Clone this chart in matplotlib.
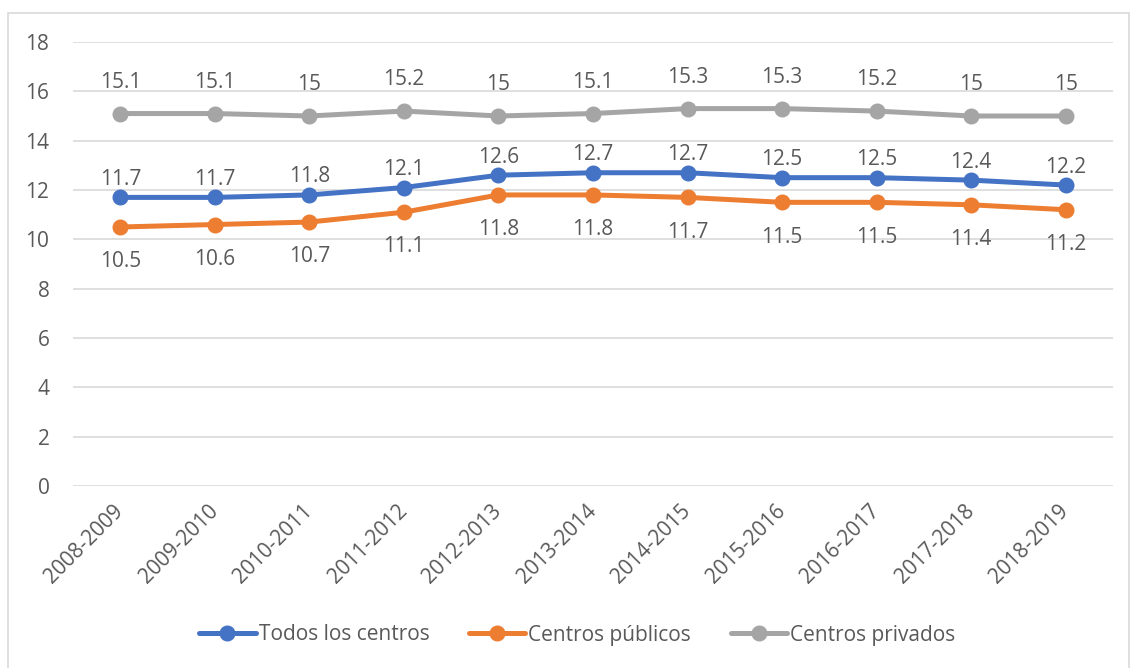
import matplotlib.pyplot as plt
from matplotlib.patches import Rectangle

# datos
cursos = ['2008-2009', '2009-2010', '2010-2011', '2011-2012', '2012-2013',
          '2013-2014', '2014-2015', '2015-2016', '2016-2017', '2017-2018',
          '2018-2019']
todos = [11.7, 11.7, 11.8, 12.1, 12.6, 12.7, 12.7, 12.5, 12.5, 12.4, 12.2]
publicos = [10.5, 10.6, 10.7, 11.1, 11.8, 11.8, 11.7, 11.5, 11.5, 11.4, 11.2]
privados = [15.1, 15.1, 15.0, 15.2, 15.0, 15.1, 15.3, 15.3, 15.2, 15.0, 15.0]

plt.rcParams['font.family'] = ['Open Sans', 'DejaVu Sans']
texto = '#595959'
tam = 15

fig = plt.figure(figsize=(11.32, 6.68), dpi=100)
ax = fig.add_axes([73 / 1132, 1 - 486 / 668, 1040 / 1132, 444 / 668])

# borde del gráfico
fig.patches.append(Rectangle((8 / 1132, -0.01), 1121 / 1132, 1 - 13 / 668 + 0.01,
                             transform=fig.transFigure, fill=False,
                             edgecolor='#d9d9d9', linewidth=1.2))

x = range(len(cursos))
# (valores, color, nombre, desplazamiento de la etiqueta en puntos)
series = [
    (todos, '#4472C4', 'Todos los centros', 13),
    (publicos, '#ED7D31', 'Centros públicos', -25),
    (privados, '#A5A5A5', 'Centros privados', 22.5),
]
for valores, color, nombre, dy in series:
    ax.plot(x, valores, color=color, linewidth=3.6, marker='o',
            markersize=10.5, label=nombre, solid_capstyle='round')
    for xi, v in zip(x, valores):
        ax.annotate(f'{v:g}', (xi, v), xytext=(0, dy),
                    textcoords='offset points', ha='center', va='center',
                    fontsize=tam, color=texto)

ax.set_xlim(-0.5, len(cursos) - 0.5)
ax.set_ylim(0, 18)
ax.set_yticks(range(0, 19, 2))
ax.set_xticks(list(x))
ax.set_xticklabels(cursos, rotation=45, ha='right', va='center',
                   rotation_mode='anchor')
ax.tick_params(axis='both', length=0, labelsize=tam, colors=texto)
ax.tick_params(axis='x', pad=16)
ax.tick_params(axis='y', pad=17)
ax.grid(axis='y', color='#d9d9d9', linewidth=1.2)
ax.set_axisbelow(True)
for s in ax.spines.values():
    s.set_visible(False)

fig.legend(loc='center', bbox_to_anchor=(0.51, 1 - 635 / 668), ncol=3,
           frameon=False, fontsize=tam, labelcolor=texto,
           handlelength=2.7, columnspacing=1.9, handletextpad=0.15)

fig.savefig('out.png', dpi=100)
